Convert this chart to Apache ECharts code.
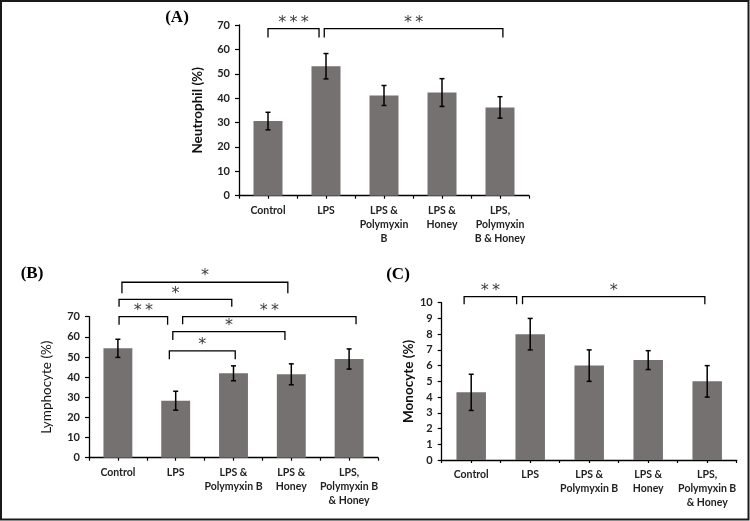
<!DOCTYPE html>
<html>
<head>
<meta charset="utf-8">
<script src="https://cdn.jsdelivr.net/npm/echarts@6/dist/echarts.min.js"></script>
<style>html,body{margin:0;padding:0;background:#fff}#c{width:750px;height:521px}</style>
</head>
<body>
<div id="c"></div>
<script>
// ---- data ----
const categoriesA = ['Control', 'LPS', 'LPS &\nPolymyxin\nB', 'LPS &\nHoney', 'LPS,\nPolymyxin\nB & Honey'];
const categoriesBC = ['Control', 'LPS', 'LPS &\nPolymyxin B', 'LPS &\nHoney', 'LPS,\nPolymyxin B\n& Honey'];

const neutrophilMean = [30.6, 53.1, 41.1, 42.3, 36.2];
const neutrophilErr = [3.6, 5.2, 4.1, 5.7, 4.4];
const lymphocyteMean = [54.3, 28.3, 41.9, 41.4, 49.0];
const lymphocyteErr = [4.5, 4.7, 3.7, 5.2, 5.0];
const monocyteMean = [4.3, 8.0, 6.0, 6.35, 5.0];
const monocyteErr = [1.15, 1.0, 1.0, 0.6, 1.0];

// significance brackets: [from position, to position, top value, end value, stars]
const bracketsA = [[0.0, 0.88, 68.5, 64.9, '***'], [0.97, 4.05, 68.5, 64.9, '**']];
const bracketsB = [
  [0.02, 0.86, 70, 66, '**'],
  [0.02, 1.97, 78.6, 75, '*'],
  [0.07, 2.94, 87.1, 81.6, '*'],
  [1.12, 4.12, 70, 66.2, '**'],
  [0.95, 2.89, 62.6, 58.4, '*'],
  [0.89, 2.03, 53, 48.9, '*']
];
const bracketsC = [[-0.12, 0.77, 10.38, 9.9, '**'], [0.87, 3.96, 10.38, 9.9, '*']];

const ticksA = [0, 70, 10];
const ticksB = [0, 70, 10];
const ticksC = [0, 10, 1];

// ---- helpers ----
const FONT = 'Lato, "Open Sans", sans-serif';
const BAR = '#767171';

function errData(mean, err) { return mean.map((m, i) => [i, m - err[i], m + err[i]]); }

function renderErr(params, api) {
  const x = api.value(0), lo = api.value(1), hi = api.value(2);
  const p1 = api.coord([x, hi]), p2 = api.coord([x, lo]);
  const c = 2.5;
  const st = { stroke: '#000', lineWidth: 1.5 };
  return { type: 'group', children: [
    { type: 'line', shape: { x1: p1[0], y1: p1[1], x2: p2[0], y2: p2[1] }, style: st },
    { type: 'line', shape: { x1: p1[0] - c, y1: p1[1], x2: p1[0] + c, y2: p1[1] }, style: st },
    { type: 'line', shape: { x1: p2[0] - c, y1: p2[1], x2: p2[0] + c, y2: p2[1] }, style: st }
  ]};
}

function renderBracket(params, api) {
  const x1 = api.value(0), x2 = api.value(1), yt = api.value(2), ye = api.value(3);
  const a = api.coord([x1, ye]), b = api.coord([x1, yt]), c = api.coord([x2, yt]), d = api.coord([x2, ye]);
  const stars = String(api.value(4)).split('').join('\u2009');
  return { type: 'group', children: [
    { type: 'polyline', shape: { points: [a, b, c, d] }, style: { stroke: '#000', lineWidth: 1.3, fill: null } },
    { type: 'text', x: (b[0] + c[0]) / 2, y: b[1] + 2,
      style: { text: stars, fill: '#3a3a3a', font: '16px "DejaVu Sans", sans-serif', align: 'center', verticalAlign: 'bottom' } }
  ]};
}

function buildPanel(idx, grid, cats, mean, err, brackets, ticks, yName, nameGap, nameWeight) {
  const g = { left: grid[0], top: grid[1], width: grid[2], height: grid[3] };
  const xCat = {
    type: 'category', gridIndex: idx, data: cats, position: 'bottom',
    axisLine: { show: false }, axisTick: { show: false },
    axisLabel: { fontFamily: FONT, fontSize: 10.5, fontWeight: 'bold', color: '#222', lineHeight: 14, margin: 8, interval: 0 }
  };
  const xVal = {
    type: 'value', gridIndex: idx, min: -0.5, max: 4.5, interval: 0.5, position: 'bottom',
    axisLine: { show: true, onZero: false, lineStyle: { color: '#000', width: 1.3 } },
    axisTick: { show: true, inside: false, length: 3, lineStyle: { color: '#000', width: 1.2 } },
    axisLabel: { show: false }, splitLine: { show: false }
  };
  const y = {
    type: 'value', gridIndex: idx, min: ticks[0], max: ticks[1], interval: ticks[2],
    name: yName, nameLocation: 'middle', nameGap: nameGap,
    nameTextStyle: { fontFamily: FONT, fontSize: 13.5, fontWeight: nameWeight, color: '#111' },
    axisLine: { show: true, onZero: false, lineStyle: { color: '#000', width: 1.3 } },
    axisTick: { show: true, length: 4, lineStyle: { color: '#000', width: 1.2 } },
    axisLabel: { fontFamily: FONT, fontSize: 11, fontWeight: 'bold', color: '#222', margin: 9 },
    splitLine: { show: false }
  };
  return { grid: g, xCat, xVal, y, mean, err, brackets };
}

const panels = [
  buildPanel(0, [239, 25, 290, 170.7], categoriesA, neutrophilMean, neutrophilErr, bracketsA, ticksA, 'Neutrophil (%)', 34, 'bold'),
  buildPanel(1, [89, 316.7, 289, 141], categoriesBC, lymphocyteMean, lymphocyteErr, bracketsB, ticksB, 'Lymphocyte (%)', 35, 'normal'),
  buildPanel(2, [441.7, 302.7, 295, 157.3], categoriesBC, monocyteMean, monocyteErr, bracketsC, ticksC, 'Monocyte (%)', 25, 'bold')
];

const option = {
  animation: false,
  backgroundColor: '#fff',
  textStyle: { fontFamily: FONT },
  grid: panels.map(p => p.grid),
  xAxis: [],
  yAxis: panels.map(p => p.y),
  series: [],
  graphic: [
    { type: 'rect', shape: { x: 1, y: 1, width: 747.5, height: 518.5 }, style: { fill: null, stroke: '#1a1a1a', lineWidth: 2 }, z: 100 },
    { type: 'text', x: 177, y: 18, style: { text: '(A)', font: 'bold 17px "Liberation Serif", serif', fill: '#000', align: 'center', verticalAlign: 'middle' } },
    { type: 'text', x: 32, y: 274, style: { text: '(B)', font: 'bold 17px "Liberation Serif", serif', fill: '#000', align: 'center', verticalAlign: 'middle' } },
    { type: 'text', x: 398, y: 275, style: { text: '(C)', font: 'bold 17px "Liberation Serif", serif', fill: '#000', align: 'center', verticalAlign: 'middle' } }
  ]
};

panels.forEach((p, i) => {
  const catIdx = option.xAxis.length;
  option.xAxis.push(p.xCat);
  const valIdx = option.xAxis.length;
  option.xAxis.push(p.xVal);
  option.series.push({
    type: 'bar', xAxisIndex: catIdx, yAxisIndex: i, data: p.mean, barWidth: '50%',
    itemStyle: { color: BAR }, silent: true
  });
  option.series.push({
    type: 'custom', xAxisIndex: catIdx, yAxisIndex: i, data: errData(p.mean, p.err),
    renderItem: renderErr, z: 5, silent: true
  });
  option.series.push({
    type: 'custom', xAxisIndex: valIdx, yAxisIndex: i, data: p.brackets,
    renderItem: renderBracket, clip: false, z: 5, silent: true,
    encode: { x: [0, 1], y: [2, 3] }
  });
});

const chart = echarts.init(document.getElementById('c'), null, { renderer: 'canvas' });
chart.setOption(option);
</script>
</body>
</html>
